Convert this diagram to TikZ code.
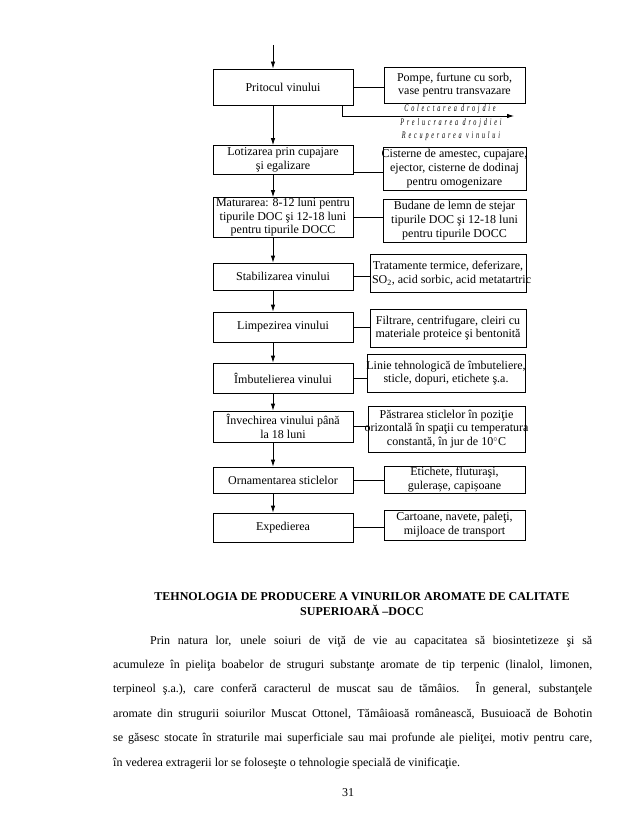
\documentclass[tikz,border=0pt]{standalone}
\usepackage{fontspec}
\setmainfont{Liberation Serif}
\usetikzlibrary{arrows.meta,positioning,calc}
\tikzset{flow edge/.style={-{Latex[length=7pt,width=4.5pt]}, line width=0.8pt}}
\tikzset{flow line/.style={draw=black, line width=0.8pt}}
\tikzset{stage box/.style={draw=black, line width=0.8pt, align=center, inner xsep=0pt, inner ysep=1pt, minimum width=140pt, minimum height=#1, font=\fontsize{12}{13.5}\selectfont}}
\tikzset{tool box/.style 2 args={draw=black, line width=0.8pt, align=center, inner xsep=0pt, inner ysep=1pt, minimum width=#1, minimum height=#2, font=\fontsize{12}{13.8}\selectfont}}
\tikzset{side note/.style={inner sep=0pt, font=\fontsize{10}{11}\selectfont\itshape\addfontfeatures{LetterSpace=28,FakeStretch=0.62}}}
\tikzset{page text/.style={inner sep=0pt, anchor=north west, font=\fontsize{12}{24.4}\selectfont}}
\newlength\parwd
\setlength\parwd{479pt}
\newcommand\parline[1]{\hbox to \parwd{#1}}

\begin{document}
\begin{tikzpicture}[x=1pt,y=1pt]
	\useasboundingbox (0,0) rectangle (638,-826);
	\coordinate (feed) at (273,-45);

	\node[stage box=36pt] (pritocul) at (283,-87) {Pritocul vinului};
	\node[stage box=29pt] (lotizare) at (283,-160) {Lotizarea prin cupajare\\şi egalizare};
	\node[stage box=40pt] (maturare) at (283,-217.5) {Maturarea: 8-12 luni pentru\\tipurile DOC şi 12-18 luni\\pentru tipurile DOCC};
	\node[stage box=27pt] (stabilizare) at (283,-276.5) {Stabilizarea vinului};
	\node[stage box=30pt] (limpezire) at (283,-327) {Limpezirea vinului};
	\node[stage box=30pt] (imbuteliere) at (283,-378) {Îmbutelierea vinului};
	\node[stage box=31pt] (invechire) at (283,-426.5) {Învechirea vinului până\\la 18 luni};
	\node[stage box=26pt] (ornamentare) at (283,-480) {Ornamentarea sticlelor};
	\node[stage box=29pt] (expediere) at (283,-527.5) {Expedierea};

	\node[tool box={141pt}{36pt}] (pompe) at (454.5,-85) {Pompe, furtune cu sorb,\\vase pentru transvazare};
	\node[tool box={143pt}{43pt}] (cisterne) at (454.5,-168.5) {\makebox[141pt][c]{Cisterne de amestec, cupajare,}\\ejector, cisterne de dodinaj\\pentru omogenizare};
	\node[tool box={143pt}{43pt}] (budane) at (454.5,-220.5) {Budane de lemn de stejar\\tipurile DOC şi 12-18 luni\\pentru tipurile DOCC};
	\node[tool box={156pt}{38pt}] (tratamente) at (448,-273) {\makebox[152pt][c]{Tratamente termice, deferizare,}\\\makebox[152pt][l]{SO\textsubscript{2}, acid sorbic, acid metatartric}};
	\node[tool box={156pt}{38pt}] (filtrare) at (448,-328) {Filtrare, centrifugare, cleiri cu\\materiale proteice şi bentonită};
	\node[tool box={158pt}{38pt}] (linie) at (446,-373) {\makebox[156pt][c]{Linie tehnologică de îmbuteliere,}\\sticle, dopuri, etichete ş.a.};
	\node[tool box={157pt}{46pt}] (pastrare) at (446.5,-429) {Păstrarea sticlelor în poziţie\\\makebox[150pt][c]{orizontală în spaţii cu temperatura}\\constantă, în jur de 10$^{\circ}$C};
	\node[tool box={141pt}{27pt}] (etichete) at (454.5,-479.5) {Etichete, fluturaşi,\\gulerașe, capișoane};
	\node[tool box={141pt}{30pt}] (cartoane) at (454.5,-525) {Cartoane, navete, paleţi,\\mijloace de transport};

	\draw[flow edge] (feed) -- (pritocul.north -| feed);
	\foreach \a/\b in {pritocul/lotizare, lotizare/maturare, maturare/stabilizare, stabilizare/limpezire, limpezire/imbuteliere, imbuteliere/invechire, invechire/ornamentare, ornamentare/expediere}
		\draw[flow edge] (\a.south -| feed) -- (\b.north -| feed);

	\foreach \a/\b in {pritocul/pompe, maturare/budane, stabilizare/tratamente, limpezire/filtrare, imbuteliere/linie, invechire/pastrare, ornamentare/etichete, expediere/cartoane}
		\draw[flow line] (\a.east) -- (\a.east -| \b.west);
	\draw[flow line] ([yshift=-12pt]lotizare.east) -- ([yshift=-12pt]lotizare.east -| cisterne.west);

	\coordinate (tap) at (342,-116);
	\coordinate (drojdie) at (514,-116);
	\draw[flow edge] (pritocul.south -| tap) -- (tap) -- (drojdie);
	\node[side note] (colectare) at (450,-109.5) {Colectarea drojdie};
	\node[side note] (prelucrare) at (451,-123) {Prelucrarea drojdiei};
	\node[side note] (recuperare) at (451,-136.5) {Recuperarea vinului};

	\node[align=center, inner sep=0pt, font=\fontsize{12}{15}\selectfont\bfseries] (titlu) at (362,-604.5) {TEHNOLOGIA DE PRODUCERE A VINURILOR AROMATE DE CALITATE\\SUPERIOARĂ –DOCC};

	\node[page text] (paragraf) at (113,-635.5) {\vbox{%
		\parline{\hskip37pt Prin natura lor, unele soiuri de viţă de vie au capacitatea să biosintetizeze şi să}%
		\parline{acumuleze în pieliţa boabelor de struguri substanţe aromate de tip terpenic (linalol, limonen,}%
		\parline{terpineol ş.a.), care conferă caracterul de muscat sau de tămâios. În general, substanţele}%
		\parline{aromate din strugurii soiurilor Muscat Ottonel, Tămâioasă românească, Busuioacă de Bohotin}%
		\parline{se găsesc stocate în straturile mai superficiale sau mai profunde ale pieliţei, motiv pentru care,}%
		\parline{în vederea extragerii lor se foloseşte o tehnologie specială de vinificaţie.\hfil}}};

	\node[inner sep=0pt, font=\fontsize{12}{14}\selectfont] (pagina) at (348,-793) {31};
\end{tikzpicture}
\end{document}
